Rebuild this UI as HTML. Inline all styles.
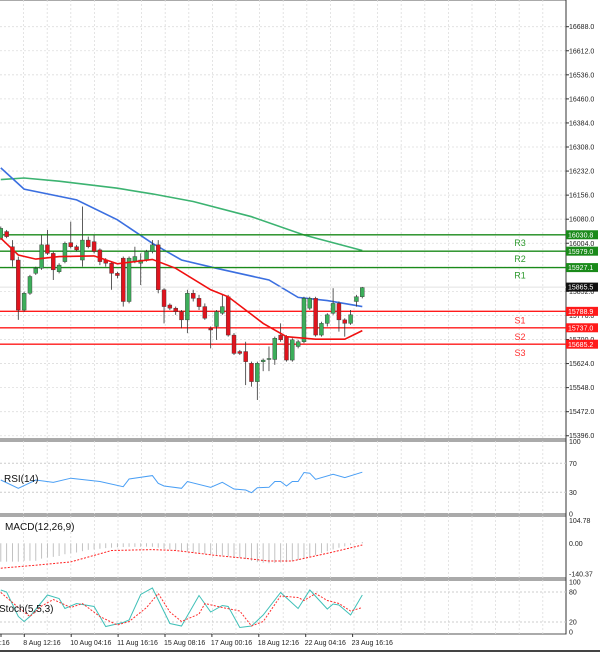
<!DOCTYPE html>
<html><head><meta charset="utf-8"><style>
html,body{margin:0;padding:0;background:#fff;}
svg{display:block;font-family:"Liberation Sans",sans-serif;}
</style></head><body>
<svg id="c" width="600" height="652" xmlns="http://www.w3.org/2000/svg"></svg>
<script>
// ---- data ----
const opens  =[16020,16041,15993,15951,15793,15846,15909,15925,15999,15972,15914,15946,16006,15993,15951,16014,16009,15983,15951,15941,15909,15957,15820,15946,15941,15951,15978,15999,15857,15809,15799,15788,15762,15846,15830,15804,15735,15741,15783,15835,15714,15662,15662,15625,15567,15630,15637,15637,15714,15709,15635,15678,15693,15799,15830,15714,15751,15783,15814,15762,15751,15820,15835];
const highs  =[16057,16046,16014,15962,15851,15904,15930,16030,16046,15978,15941,16009,16072,15999,16120,16025,16030,15988,15957,15946,15914,15962,15962,15993,15972,15983,16014,16014,15862,15814,15804,15793,15857,15857,15841,15814,15741,15793,15841,15841,15720,15667,15693,15630,15630,15640,15678,15709,15751,15714,15704,15699,15835,15835,15835,15756,15783,15862,15820,15767,15793,15841,15866];
const lows   =[16014,16020,15930,15762,15788,15841,15904,15920,15967,15888,15909,15941,15988,15978,15930,15988,15972,15935,15930,15857,15893,15804,15814,15941,15872,15946,15972,15846,15751,15793,15778,15735,15720,15820,15793,15762,15672,15699,15778,15709,15651,15651,15556,15551,15509,15600,15600,15620,15693,15630,15630,15672,15688,15793,15709,15709,15741,15778,15725,15709,15746,15804,15830];
const closes =[16051,16025,15951,15793,15846,15899,15925,15999,15972,15920,15935,16004,15993,15983,16014,15993,15978,15946,15941,15909,15902,15820,15957,15962,15951,15978,15999,15857,15804,15799,15788,15762,15846,15830,15804,15767,15730,15788,15804,15714,15656,15656,15630,15567,15625,15635,15640,15704,15699,15635,15699,15693,15830,15830,15714,15751,15778,15814,15762,15751,15778,15835,15864];
const maFastIdx=[0,3,6,10,16,20,26,30,36,39,45,49,54,59,62];
const maFast   =[16020,15967,15954,15962,15964,15939,15953,15925,15857,15835,15751,15709,15701,15701,15728];
const maMidIdx =[0,4,13,20,26,31,37,46,51,56,62];
const maMid    =[16242,16175,16141,16078,16004,15951,15925,15888,15833,15823,15804];
const maSlowIdx=[0,4,10,20,26,33,43,52,62];
const maSlow   =[16205,16210,16200,16178,16160,16136,16088,16030,15981];
const levelNames=["R3","R2","R1","S1","S2","S3"];
const levelValues=[16030.8,15979.0,15927.1,15788.9,15737.0,15685.2];
const lastPrice=15865.5;
const priceTicks=[16688,16612,16536,16460,16384,16308,16232,16156,16080,16004,15928,15852,15776,15700,15624,15548,15472,15396];
const rsiIdx=[0,3,6,9,12,17,21,22,26,27,28,31,32,36,38,40,42,43,44,46,47,48,49,50,51,52,53,54,57,59,62];
const rsiVals=[46.9,35.4,46.9,43.6,49.4,44.8,37.7,48.3,52.9,42.3,38.6,35.4,44.8,36.8,43.7,34.5,33.1,29.4,36.3,36.8,44.8,44.8,38.6,44.8,44.8,57.2,56.3,47.8,54.7,50.2,57.7];
const macdHist=[-84,-84,-84,-84,-80,-80,-80,-70,-65,-62,-58,-50,-45,-42,-36,-30,-28,-25,-22,-20,-18,-17,-16,-16,-16,-15,-16,-20,-25,-28,-30,-34,-38,-44,-46,-48,-50,-53,-56,-60,-62,-66,-72,-80,-86,-89,-91,-90,-88,-86,-82,-76,-70,-62,-54,-45,-36,-28,-20,-14,-8,-2,6];
const macdSigIdx=[0,6,12,19,26,30,37,42,46,50,52,57,62];
const macdSig=[-114,-100,-85,-33,-29,-33,-56,-69,-81,-81,-69,-40,-8];
const stochKIdx=[0,1,3,4,5,8,10,11,13,16,18,21,22,24,26,29,31,34,36,38,39,41,43,45,48,51,53,56,57,58,60,62];
const stochK=[84,80,31,21,31,74,67,47,57,51,11,19,24,75,88,17,12,73,40,53,51,9,12,34,79,47,84,46,56,54,34,74];
const stochDIdx=[0,3,5,7,9,12,14,17,20,22,25,27,29,31,34,35,38,41,43,45,48,51,52,54,56,58,60,62];
const stochD=[79,49,31,52,65,49,57,31,14,21,49,77,40,21,36,57,49,42,12,21,72,69,63,77,63,57,42,49];
const timeLabels=["0:16","8 Aug 12:16","10 Aug 04:16","11 Aug 16:16","15 Aug 08:16","17 Aug 00:16","18 Aug 12:16","22 Aug 04:16","23 Aug 16:16"];

// ---- scales ----
const AX=566, X0=0.8, STEP=5.83;
const xi=i=>X0+i*STEP;
const yP=p=>26.7+(16688-p)*0.3166;
const yR=v=>514-v*0.725;
const yM=v=>543.3-v*0.2187;
const yS=v=>632-v*0.5;
const svg=document.getElementById('c');
const NS='http://www.w3.org/2000/svg';
function mk(tag,attrs,parent){const e=document.createElementNS(NS,tag);for(const k in attrs)e.setAttribute(k,attrs[k]);(parent||svg).appendChild(e);return e;}
function txt(s,x,y,attrs){const t=mk('text',Object.assign({x:x,y:y},attrs));t.textContent=s;return t;}

// panels
const panels=[[0,0,439],[1,441,514],[2,516,578],[3,580,634]];
const pnames=['price-panel','rsi-panel','macd-panel','stoch-panel'];
panels.forEach((p,k)=>{
  const r=mk('rect',{x:-1,y:p[1],width:AX+1,height:p[2]-p[1],fill:'#fff',stroke:'#555','stroke-width':1});
  
  
});
// vertical grid
for(let x=23.6;x<AX;x+=23.6){
  panels.forEach(p=>{mk('line',{x1:x,x2:x,y1:p[1],y2:p[2],stroke:'#ddd','stroke-dasharray':'2,2','stroke-width':0.8});});
}
// price grid & ticks
priceTicks.forEach(v=>{
  const y=yP(v);
  mk('line',{x1:0,x2:AX,y1:y,y2:y,stroke:'#ddd','stroke-dasharray':'2,2','stroke-width':0.8});
  mk('line',{x1:AX,x2:AX+3,y1:y,y2:y,stroke:'#333'});
  const t=txt(v.toFixed(1),569,y+2.5,{'font-size':7,fill:'#222'});
  
  
});
// axis line
mk('line',{x1:AX,x2:AX,y1:0,y2:634,stroke:'#333','stroke-width':1});
// MA lines
function poly(idx,vals,yf,color,w,dash,name){
  const pts=idx.map((i,k)=>xi(i).toFixed(1)+','+yf(vals[k]).toFixed(1)).join(' ');
  const a={points:pts,fill:'none',stroke:color,'stroke-width':w};
  if(dash)a['stroke-dasharray']=dash;
  const e=mk('polyline',a);
  
  
}
poly(maSlowIdx,maSlow,yP,'#3cb371',1.6,null,'ma-slow-line');
poly(maMidIdx,maMid,yP,'#3b6fe0',1.6,null,'ma-mid-line');
// levels
levelValues.forEach((v,k)=>{
  const y=yP(v), res=k<3, col=res?'#1a8a1a':'#ff1a1a';
  const l=mk('line',{x1:0,x2:AX,y1:y,y2:y,stroke:col,'stroke-width':1.4});
  
  
  const n=txt(levelNames[k],520,y+(res?11:12),{'font-size':9,fill:res?'#2e9a2e':'#ff3030','text-anchor':'middle'});
  
  
  mk('rect',{x:566,y:y-4.5,width:32,height:9,fill:res?'#1a8a1a':'#ff1a1a'});
  const b=txt(v.toFixed(1),568,y+2.6,{'font-size':7,fill:'#fff'});
  
  
});
// last price
{const y=yP(lastPrice);
 mk('line',{x1:0,x2:AX,y1:y,y2:y,stroke:'#e2e2e2','stroke-width':1});
 mk('rect',{x:566,y:y-4.5,width:32,height:9,fill:'#111'});
 const t=txt(lastPrice.toFixed(1),568,y+2.6,{'font-size':7,fill:'#fff'});
 
 }
// candles
opens.forEach((o,i)=>{
  const c=closes[i], x=xi(i), up=c>=o, col=up?'#3cae5a':'#e0141e';
  const g=mk('g',{});
  
  
  mk('line',{x1:x,x2:x,y1:yP(highs[i]),y2:yP(lows[i]),stroke:'#333','stroke-width':0.8},g);
  const t=yP(Math.max(o,c)), b=yP(Math.min(o,c));
  mk('rect',{x:x-2,y:t,width:4,height:Math.max(1,b-t),fill:col,stroke:'#333','stroke-width':0.4},g);
});
poly(maFastIdx,maFast,yP,'#f01010',1.6,null,'ma-fast-line');

// RSI
[100,70,30,0].forEach(v=>{
  const y=yR(v);
  if(v==70||v==30)mk('line',{x1:0,x2:AX,y1:y,y2:y,stroke:'#ccc','stroke-dasharray':'2,2'});
  const t=txt(String(v),569,y+2.5,{'font-size':7,fill:'#222'});
  
  
});
poly(rsiIdx,rsiVals,yR,'#4a9ff5',1,null,'rsi-line');
{const t=txt('RSI(14)',4,482,{'font-size':10,fill:'#111'});}

// MACD
[[104.78,'104.78'],[0,'0.00'],[-140.37,'-140.37']].forEach(a=>{
  const t=txt(a[1],569,yM(a[0])+2.5,{'font-size':7,fill:'#222'});
  
  
});
macdHist.forEach((v,i)=>{
  const l=mk('line',{x1:xi(i),x2:xi(i),y1:yM(0),y2:yM(v),stroke:'#bbb','stroke-width':0.9});
  
  
});
poly(macdSigIdx,macdSig,yM,'#ff2020',1,'2,1.5','macd-signal-line');
{const t=txt('MACD(12,26,9)',5,530,{'font-size':10,fill:'#111'});}

// Stoch
[[100,'100'],[80,'80'],[20,'20'],[0,'0']].forEach(a=>{
  const y=yS(a[0]);
  if(a[0]==80||a[0]==20)mk('line',{x1:0,x2:AX,y1:y,y2:y,stroke:'#ccc','stroke-dasharray':'2,2'});
  const t=txt(a[1],569,y+2.5,{'font-size':7,fill:'#222'});
  
  
});
poly(stochKIdx,stochK,yS,'#40c0b8',1,null,'stoch-k-line');
poly(stochDIdx,stochD,yS,'#ff3030',1,'2,1.5','stoch-d-line');
{const t=txt('Stoch(5,5,3)',-1,612,{'font-size':10,fill:'#111'});}

// time axis
timeLabels.forEach((s,k)=>{
  const x=k==0?0:23.3+(k-1)*46.9;
  mk('line',{x1:x+1,x2:x+1,y1:634,y2:637,stroke:'#333'});
  const t=txt(s,k==0?-4:x,645,{'font-size':7,fill:'#222'});
  
  
});
mk('rect',{x:0,y:650,width:600,height:2,fill:'#444'});
</script>
</body></html>
